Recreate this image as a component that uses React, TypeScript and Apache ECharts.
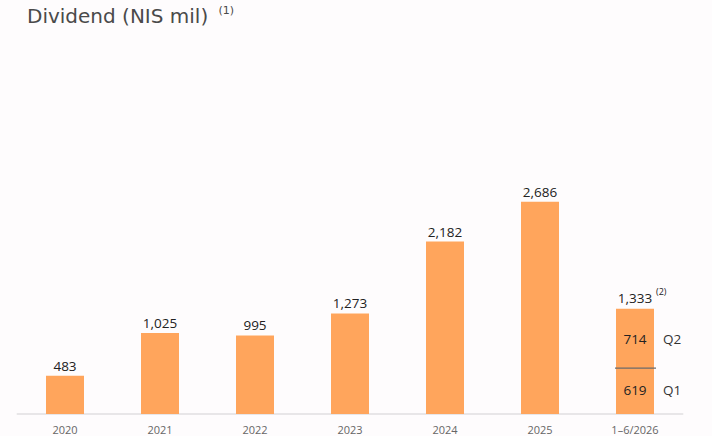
import React, { useEffect, useRef } from "react";
import * as echarts from "echarts";

const categories = ["2020", "2021", "2022", "2023", "2024", "2025", "1-6/2026"];
const annualValues: (number | string)[] = [483, 1025, 995, 1273, 2182, 2686, "-"];
const q1Values: (number | string)[] = ["-", "-", "-", "-", "-", "-", 619];
const q2Values: (number | string)[] = ["-", "-", "-", "-", "-", "-", 714];
const partialTotal = 1333;
const partialIndex = 6;
const titleText = "Dividend (NIS mil)";
const titleNote = "(1)";
const totalNote = "(2)";

const fmt = (v: number) => v.toLocaleString("en-US");

export default function App() {
  const ref = useRef<HTMLDivElement>(null);
  useEffect(() => {
    if (!ref.current) return;
    const chart = echarts.init(ref.current, null, { renderer: "svg" });
    const FONT = "'Open Sans', sans-serif";
    const TFONT = "'DejaVu Sans', sans-serif";
    const BAR = "#FFA55C";
    chart.setOption({
      animation: false,
      backgroundColor: "#fefcfd",
      title: {
        text: `${titleText} {sup|${titleNote}}`,
        left: 22,
        top: 0,
        textStyle: {
          fontFamily: TFONT,
          fontSize: 20,
          fontWeight: "normal",
          color: "#4a4a4a",
          rich: {
            sup: { fontSize: 11, color: "#4a4a4a", verticalAlign: "top", padding: [0, 0, 10, 4], fontFamily: TFONT },
          },
        },
      },
      grid: { left: 17.5, right: 29.5, top: 177, bottom: 22 },
      xAxis: {
        type: "category",
        data: categories,
        axisLine: { lineStyle: { color: "#e8e6e8", width: 2 } },
        axisTick: { show: false },
        axisLabel: {
          color: "#666",
          fontSize: 11,
          fontFamily: FONT,
          margin: 10,
          formatter: (v: string) => v.replace("-", "–"),
        },
      },
      yAxis: { type: "value", min: 0, max: 3000, show: false, splitLine: { show: false } },
      series: [
        {
          type: "bar",
          stack: "a",
          data: annualValues,
          barWidth: 38,
          itemStyle: { color: BAR },
          label: {
            show: true,
            position: "top",
            distance: 3,
            color: "#222",
            fontSize: 13.5,
            fontFamily: FONT,
            formatter: (p: any) => fmt(p.value),
          },
        },
        {
          type: "bar",
          stack: "a",
          data: q1Values,
          barWidth: 38,
          itemStyle: { color: BAR },
          label: {
            show: true,
            position: "inside",
            formatter: (p: any) => `{s|}{v|${fmt(p.value)}}{q|Q1}`,
            rich: {
              s: { width: 36 },
              v: { width: 38, align: "center", color: "#222", fontSize: 13.5, fontFamily: FONT },
              q: { width: 36, align: "center", color: "#333", fontSize: 13.5, fontFamily: FONT },
            },
          },
        },
        {
          type: "bar",
          stack: "a",
          data: q2Values,
          barWidth: 38,
          itemStyle: { color: BAR },
          label: {
            show: true,
            position: "inside",
            offset: [0, 2],
            formatter: (p: any) => `{s|}{v|${fmt(p.value)}}{q|Q2}`,
            rich: {
              s: { width: 36 },
              v: { width: 38, align: "center", color: "#222", fontSize: 13.5, fontFamily: FONT },
              q: { width: 36, align: "center", color: "#333", fontSize: 13.5, fontFamily: FONT },
            },
          },
        },
        {
          type: "custom",
          data: [[partialIndex, q1Values[partialIndex] as number, partialTotal]],
          z: 10,
          renderItem: (params: any, api: any) => {
            const p = api.coord([api.value(0), api.value(1)]);
            const t = api.coord([api.value(0), api.value(2)]);
            return {
              type: "group",
              children: [
                {
                  type: "line",
                  shape: { x1: p[0] - 20, y1: p[1] + 3, x2: p[0] + 21, y2: p[1] + 3 },
                  style: { stroke: "#6b6b6b", lineWidth: 1.2 },
                },
                {
                  type: "text",
                  x: t[0],
                  y: t[1] - 4,
                  style: {
                    text: fmt(api.value(2)),
                    fontSize: 13.5,
                    fontFamily: FONT,
                    fill: "#222",
                    align: "center",
                    verticalAlign: "bottom",
                  },
                },
                {
                  type: "text",
                  x: t[0] + 21,
                  y: t[1] - 13,
                  style: {
                    text: totalNote,
                    fontSize: 9,
                    fontFamily: FONT,
                    fill: "#222",
                    align: "left",
                    verticalAlign: "bottom",
                  },
                },
              ],
            };
          },
        },
      ],
    });
    return () => chart.dispose();
  }, []);
  return (
    <div
      ref={ref}
      style={{ position: "fixed", left: 0, top: 0, width: 712, height: 436 }}
    />
  );
}
